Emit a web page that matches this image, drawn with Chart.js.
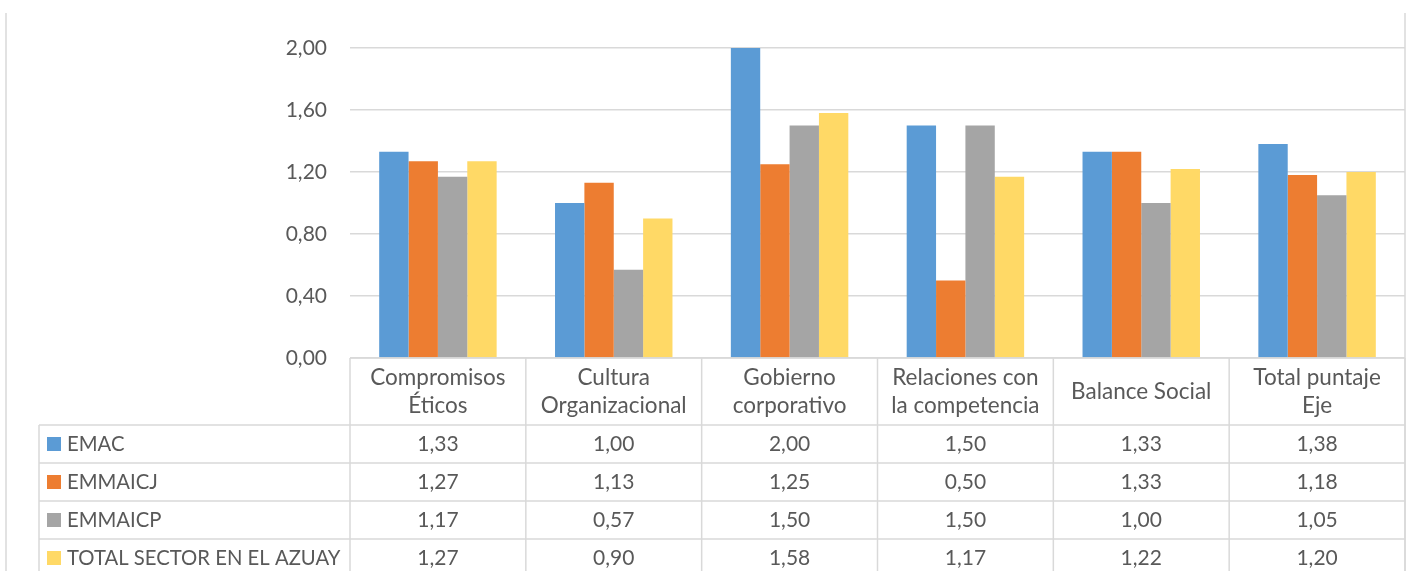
<!DOCTYPE html>
<html>
<head>
<meta charset="utf-8">
<script src="https://cdn.jsdelivr.net/npm/chart.js@4/dist/chart.umd.min.js"></script>
<style>
  html, body { margin: 0; padding: 0; background: #fff; overflow: hidden; }
  #wrap { width: 1408px; height: 571px; position: relative; }
</style>
</head>
<body>
<div id="wrap"><canvas id="c" width="1408" height="571"></canvas></div>
<script>
// Categories (multi-line labels shown in the table header)
const categories = [
  ["Compromisos", "Éticos"],
  ["Cultura", "Organizacional"],
  ["Gobierno", "corporativo"],
  ["Relaciones con", "la competencia"],
  ["Balance Social"],
  ["Total puntaje", "Eje"]
];
const seriesNames = ["EMAC", "EMMAICJ", "EMMAICP", "TOTAL SECTOR EN EL AZUAY"];
const emac       = [1.33, 1.00, 2.00, 1.50, 1.33, 1.38];
const emmaicj    = [1.27, 1.13, 1.25, 0.50, 1.33, 1.18];
const emmaicp    = [1.17, 0.57, 1.50, 1.50, 1.00, 1.05];
const totalAzuay = [1.27, 0.90, 1.58, 1.17, 1.22, 1.20];
const yTicks     = [0, 0.4, 0.8, 1.2, 1.6, 2.0];

const seriesValues = [emac, emmaicj, emmaicp, totalAzuay];
const seriesColors = ["#5B9BD5", "#ED7D31", "#A5A5A5", "#FFD966"];

const FONT_FAMILY = "Lato, 'DejaVu Sans', sans-serif";
const NUM_SIZE = 21;      // tick labels and table values
const HEAD_SIZE = 22.5;   // category names in the header row
const KEY_SIZE = 20.3;    // series names in the first column
const TEXT_COLOR = "#595959";
const LINE_COLOR = "#d9d9d9";

const fmt = v => v.toFixed(2).replace(".", ",");

// Data table drawn under the plot, aligned to the category scale
const dataTable = {
  id: "dataTable",
  afterDraw(chart) {
    const { ctx, chartArea: a, scales: { x } } = chart;
    const n = categories.length;
    const colW = (a.right - a.left) / n;
    const headerH = 67, rowH = 38, labelLeft = 39;
    const top = a.bottom;
    const H = chart.height;

    const line = (x1, y1, x2, y2) => {
      ctx.beginPath(); ctx.moveTo(x1, y1); ctx.lineTo(x2, y2); ctx.stroke();
    };

    ctx.save();
    ctx.strokeStyle = LINE_COLOR;
    ctx.lineWidth = 1.5;

    // outer frame sides
    line(6, 13, 6, H);
    line(a.right, 13, a.right, H);

    // table grid
    line(a.left, top, a.right, top);
    for (let r = 0; r < seriesNames.length; r++) {
      const y = top + headerH + r * rowH;
      line(labelLeft, y, a.right, y);
    }
    for (let i = 0; i <= n; i++) {
      const xx = (i < n ? x.getPixelForValue(i) - colW / 2 : x.getPixelForValue(n - 1) + colW / 2);
      line(xx, top, xx, H);
    }
    line(labelLeft, top + headerH, labelLeft, H);

    ctx.fillStyle = TEXT_COLOR;
    ctx.textAlign = "center";
    ctx.textBaseline = "middle";

    // header: category names
    ctx.font = HEAD_SIZE + "px " + FONT_FAMILY;
    const headerMid = top + headerH / 2 + 0.5;
    const lh = 28;
    categories.forEach((lines, i) => {
      const cx = x.getPixelForValue(i);
      const y0 = headerMid - (lines.length - 1) * lh / 2;
      lines.forEach((t, k) => ctx.fillText(t, cx, y0 + k * lh));
    });

    // rows: legend key, series name and values
    seriesNames.forEach((name, r) => {
      const cy = top + headerH + rowH * (r + 0.5);
      ctx.fillStyle = seriesColors[r];
      ctx.fillRect(47, cy - 7, 14, 14);
      ctx.fillStyle = TEXT_COLOR;
      ctx.textAlign = "left";
      ctx.font = KEY_SIZE + "px " + FONT_FAMILY;
      ctx.fillText(name, 67, cy);
      ctx.textAlign = "center";
      ctx.font = NUM_SIZE + "px " + FONT_FAMILY;
      seriesValues[r].forEach((v, i) => ctx.fillText(fmt(v), x.getPixelForValue(i), cy));
    });
    ctx.restore();
  }
};

new Chart(document.getElementById("c"), {
  type: "bar",
  data: {
    labels: categories.map(c => c.join(" ")),
    datasets: seriesNames.map((name, i) => ({
      label: name,
      data: seriesValues[i],
      backgroundColor: seriesColors[i],
      borderWidth: 0,
      categoryPercentage: 0.668,
      barPercentage: 1.0
    }))
  },
  options: {
    responsive: false,
    animation: false,
    layout: { padding: { left: 0, right: 3, top: 48, bottom: 213 } },
    plugins: { legend: { display: false }, tooltip: { enabled: false } },
    scales: {
      x: { display: false },
      y: {
        min: 0, max: 2,
        afterBuildTicks: s => { s.ticks = yTicks.map(v => ({ value: v })); },
        afterFit: s => { s.width = 350; },
        border: { display: false },
        grid: { color: LINE_COLOR, lineWidth: 1.5, drawTicks: false },
        ticks: {
          padding: 23,
          color: TEXT_COLOR,
          font: { family: FONT_FAMILY, size: NUM_SIZE },
          callback: v => fmt(v)
        }
      }
    }
  },
  plugins: [dataTable]
});
</script>
</body>
</html>
